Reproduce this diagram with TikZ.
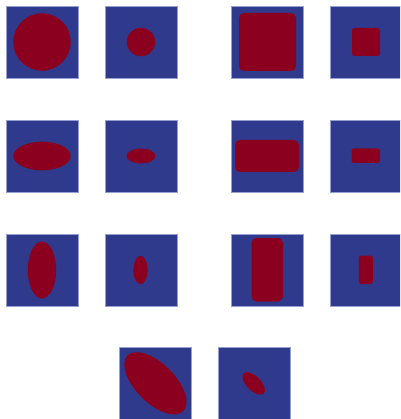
\documentclass[tikz,border=0pt]{standalone}
\definecolor{bgblue}{RGB}{47,58,140}
\definecolor{blobred}{RGB}{139,0,30}
\definecolor{edgeblue}{RGB}{150,160,210}
\begin{document}
\begin{tikzpicture}[x=1pt,y=-1pt,
  panel/.style={fill=bgblue,draw=edgeblue,line width=0.4pt},
  blob/.style={fill=blobred,draw=none}]
\useasboundingbox (0,0) rectangle (400,419);
\clip (0,0) rectangle (400,419);
% panels
\foreach \y in {6,120,234}{
  \foreach \x in {6,105,231,330}{
    \path[panel] (\x,\y) rectangle ++(72,72);
  }
}
\path[panel] (119,347) rectangle ++(72,72);
\path[panel] (218,347) rectangle ++(72,72);
% row 1
\path[blob] (42,42) circle[radius=28.7];
\path[blob] (141,42) circle[radius=14.2];
\path[blob,rounded corners=5pt] (239,13) rectangle (296,71);
\path[blob,rounded corners=2.5pt] (352,28) rectangle (380,56);
% row 2
\path[blob] (42,156) ellipse[x radius=28.7,y radius=14.3];
\path[blob] (141,156) ellipse[x radius=14.5,y radius=7.4];
\path[blob,rounded corners=5pt] (235,140) rectangle (299,172);
\path[blob,rounded corners=2.5pt] (351.5,148.5) rectangle (380,163);
% row 3
\path[blob] (42,270) ellipse[x radius=14.2,y radius=28.5];
\path[blob] (140.5,270) ellipse[x radius=7.1,y radius=14.2];
\path[blob,rounded corners=5pt] (251.5,238) rectangle (283,301.5);
\path[blob,rounded corners=2.5pt] (358.8,255.5) rectangle (372.8,284);
% row 4
\path[blob,rotate around={-45:(155.4,383.3)}] (155.4,383.3) ellipse[x radius=39.4,y radius=19.6];
\path[blob,rotate around={-45:(253.7,383.4)}] (253.7,383.4) ellipse[x radius=14.3,y radius=7.1];
\end{tikzpicture}
\end{document}
